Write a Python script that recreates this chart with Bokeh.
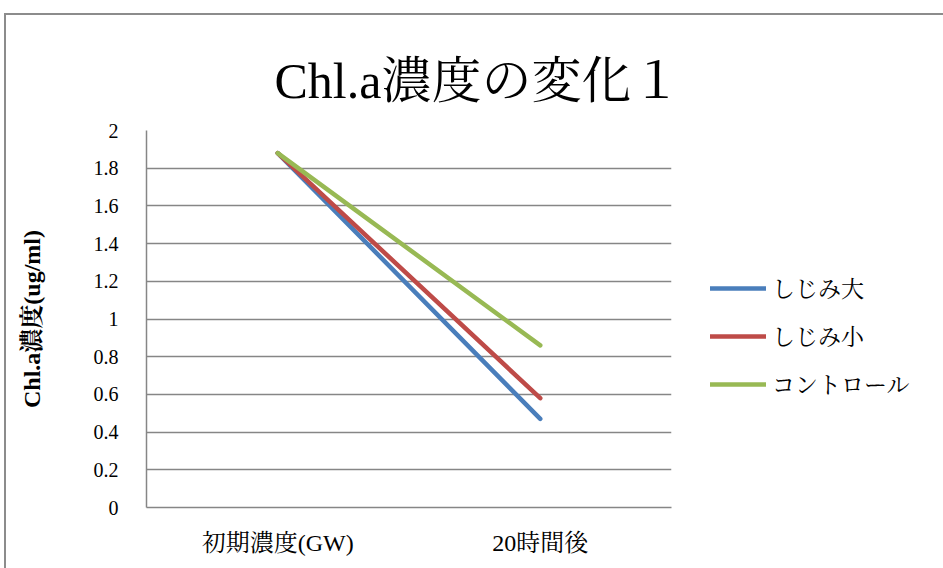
from bokeh.plotting import figure
from bokeh.models import FactorRange, Range1d, FixedTicker, Legend, LegendItem, Title
from bokeh.embed import file_html
from bokeh.resources import INLINE

# Data
categories = ["初期濃度(GW)", "20時間後"]
series_names = ["しじみ大", "しじみ小", "コントロール"]
shijimi_large = [1.88, 0.47]
shijimi_small = [1.88, 0.58]
control = [1.88, 0.86]
y_ticks = [0, 0.2, 0.4, 0.6, 0.8, 1, 1.2, 1.4, 1.6, 1.8, 2]
y_tick_labels = ["0", "0.2", "0.4", "0.6", "0.8", "1", "1.2", "1.4", "1.6", "1.8", "2"]

colors = ["#4a7ebb", "#be4b48", "#98b954"]
SERIF = "'Liberation Serif', 'Noto Serif CJK JP', 'Noto Sans CJK JP', serif"

p = figure(
    frame_width=525, frame_height=377,
    x_range=FactorRange(*categories, range_padding=0),
    y_range=Range1d(0, 2),
    output_backend="svg", toolbar_location=None,
    min_border_left=140, min_border_right=10,
    min_border_top=115, min_border_bottom=61,
    margin=(13, 0, 0, 4),
)
p.styles = {"border-top": "2px solid #8c8c8c", "border-left": "2px solid #8c8c8c"}
p.outline_line_color = None
p.background_fill_color = "white"
p.border_fill_color = "white"

# Grid
p.xgrid.grid_line_color = None
p.ygrid.grid_line_color = "#868686"
p.ygrid.grid_line_width = 1.5
p.yaxis.ticker = FixedTicker(ticks=y_ticks)
p.yaxis.major_label_overrides = {t: s for t, s in zip(y_ticks, y_tick_labels)}

# Axes
for ax in (p.xaxis[0], p.yaxis[0]):
    ax.axis_line_color = "#868686"
    ax.axis_line_width = 1.5
    ax.major_tick_line_color = None
    ax.minor_tick_line_color = None
    ax.major_label_text_font = SERIF
    ax.major_label_text_color = "black"

p.yaxis.major_label_text_font_size = "20px"
p.xaxis.major_label_text_font_size = "24px"
p.yaxis.major_label_standoff = 22
p.xaxis.major_label_standoff = 16
p.yaxis.axis_label = "Chl.a濃度(ug/ml)"
p.yaxis.axis_label_text_font = SERIF
p.yaxis.axis_label_text_font_size = "24px"
p.yaxis.axis_label_text_font_style = "bold"
p.yaxis.axis_label_text_color = "black"
p.yaxis.axis_label_standoff = 46

# Series lines
renderers = []
for name, vals, c in zip(series_names, [shijimi_large, shijimi_small, control], colors):
    r = p.line(x=categories, y=vals, line_color=c, line_width=4.5, line_cap="round")
    renderers.append((name, r))

legend = Legend(
    items=[LegendItem(label=n, renderers=[r]) for n, r in renderers],
    location=(39, 107),
    orientation="vertical",
    border_line_color=None,
    background_fill_alpha=0,
    padding=0, margin=0,
    spacing=15,
    glyph_width=56, glyph_height=24,
    label_height=24, label_standoff=6,
    label_text_font=SERIF,
    label_text_font_size="23px",
    label_text_color="black",
)
p.add_layout(legend, "right")

# Chart title
title = Title(
    text="Chl.a濃度の変化１",
    text_font=SERIF, text_font_size="50px", text_font_style="normal",
    text_color="black",
    align="left", vertical_align="top", offset=128, standoff=40,
)
p.add_layout(title, "above")

open("out.html", "w").write(file_html(p, INLINE))
